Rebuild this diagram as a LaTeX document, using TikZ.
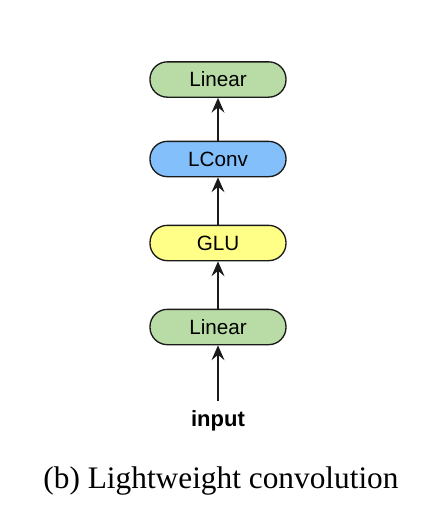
\documentclass[tikz,border=0pt]{standalone}
\usepackage{fontspec}
\setmainfont{Liberation Serif}
\setsansfont{Liberation Sans}
\usepackage{xcolor}
\usetikzlibrary{arrows.meta,positioning}
\definecolor{lingreen}{HTML}{B9DCA6}
\definecolor{convblue}{HTML}{82BFFB}
\definecolor{gluyellow}{HTML}{FFFF88}
\definecolor{linegray}{HTML}{1A1A1A}
\tikzset{
  layer/.style={draw=linegray, line width=1pt, rounded corners=13pt, align=center, minimum width=102pt, minimum height=26.5pt, inner sep=0pt, font=\sffamily\fontsize{15.5}{18}\selectfont},
  linear/.style={layer, fill=lingreen},
  lconv/.style={layer, fill=convblue},
  glu/.style={layer, fill=gluyellow},
  arrow/.style={-{Stealth[length=3.9mm, width=3.4mm, inset=1.4mm]}, line width=1.1pt, draw=linegray}
}

\begin{document}
\begin{tikzpicture}[x=0.75pt, y=-0.75pt]
  \useasboundingbox (0,0) rectangle (426,512);

  \node[linear] (linout) at (218,79.5) {Linear};
  \node[lconv] (lconv) at (218,159) {LConv};
  \node[glu] (glu) at (218,243) {GLU};
  \node[linear] (linin) at (218,327) {Linear};
  \node[font=\sffamily\bfseries\fontsize{16.5}{19}\selectfont, inner sep=7pt] (input) at (218,421) {input};

  \draw[arrow] (input) -- (linin);
  \draw[arrow] (linin) -- (glu);
  \draw[arrow] (glu) -- (lconv);
  \draw[arrow] (lconv) -- (linout);

  \node[font=\fontsize{23.5}{28}\selectfont] (caption) at (221,481) {(b) Lightweight convolution};
\end{tikzpicture}
\end{document}
